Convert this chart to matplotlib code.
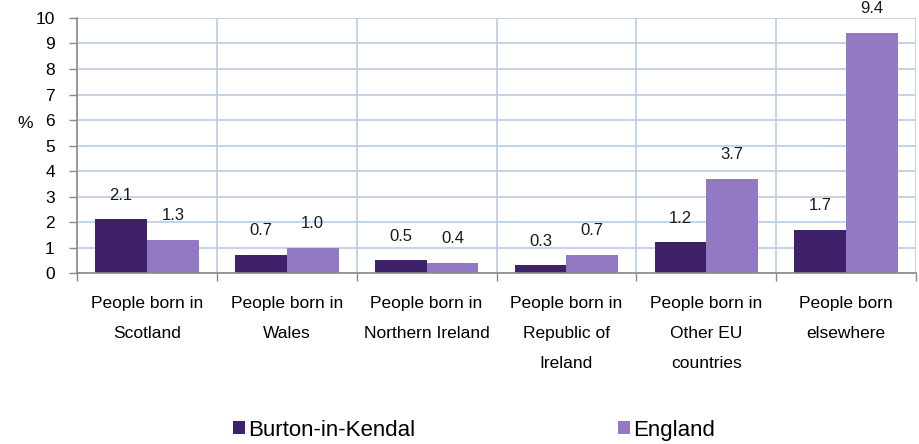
import matplotlib.pyplot as plt
import numpy as np
from matplotlib.patches import Patch

plt.rcParams['font.family'] = ['Liberation Sans', 'DejaVu Sans']

categories = ["People born in\nScotland", "People born in\nWales",
              "People born in\nNorthern Ireland", "People born in\nRepublic of\nIreland",
              "People born in\nOther EU\ncountries", "People born\nelsewhere"]
burton = [2.1, 0.7, 0.5, 0.3, 1.2, 1.7]
england = [1.3, 1.0, 0.4, 0.7, 3.7, 9.4]
series_names = ["Burton-in-Kendal", "England"]

dark = "#3E2168"
light = "#9378C4"
grid_col = "#B9CDE5"
axis_col = "#898989"

fig = plt.figure(figsize=(9.2, 4.44), dpi=100)
ax = fig.add_axes([0.0837, 0.385, 0.912, 0.5745])

x = np.arange(len(categories))
w = 0.37
b1 = ax.bar(x - w / 2, burton, w, color=dark, zorder=3)
b2 = ax.bar(x + w / 2, england, w, color=light, zorder=3)

for bars, vals in ((b1, burton), (b2, england)):
    for r, v in zip(bars, vals):
        ax.annotate(f"{v:.1f}", (r.get_x() + r.get_width() / 2, v),
                    xytext=(0, 17.5), textcoords="offset points",
                    ha="center", va="center", fontsize=12, color="#1a1a1a",
                    annotation_clip=False)

ax.set_xlim(-0.5, len(categories) - 0.5)
ax.set_ylim(0, 10)
ax.set_yticks(range(0, 11))
ax.set_xticks(x)
ax.set_xticklabels(categories, linespacing=2.25, va="top")
ax.set_xticks(np.arange(-0.5, len(categories)), minor=True)

ax.tick_params(axis="x", which="major", length=0, pad=16.5, labelsize=12.5)
ax.tick_params(axis="x", which="minor", length=6, color=axis_col, width=1)
ax.tick_params(axis="y", length=6, color=axis_col, width=1, labelsize=12.5, pad=10)

ax.grid(axis="y", which="major", color=grid_col, linewidth=1.2, zorder=0)
ax.grid(axis="x", which="minor", color=grid_col, linewidth=1.2, zorder=0)

for s in ("top", "right"):
    ax.spines[s].set_visible(False)
for s in ("left", "bottom"):
    ax.spines[s].set_color(axis_col)
    ax.spines[s].set_linewidth(1.2)
    ax.spines[s].set_zorder(4)

fig.text(25 / 920, 1 - 123 / 444, "%", ha="center", va="center", fontsize=12.5)

handles = [Patch(facecolor=dark), Patch(facecolor=light)]
fig.legend(handles, series_names, loc="center", bbox_to_anchor=(474 / 920, 1 - 430 / 444),
           ncol=2, frameon=False, fontsize=16, handlelength=0.55, handleheight=0.55,
           handletextpad=0.14, columnspacing=9.1, borderaxespad=0)

fig.savefig("out.png", dpi=100)
